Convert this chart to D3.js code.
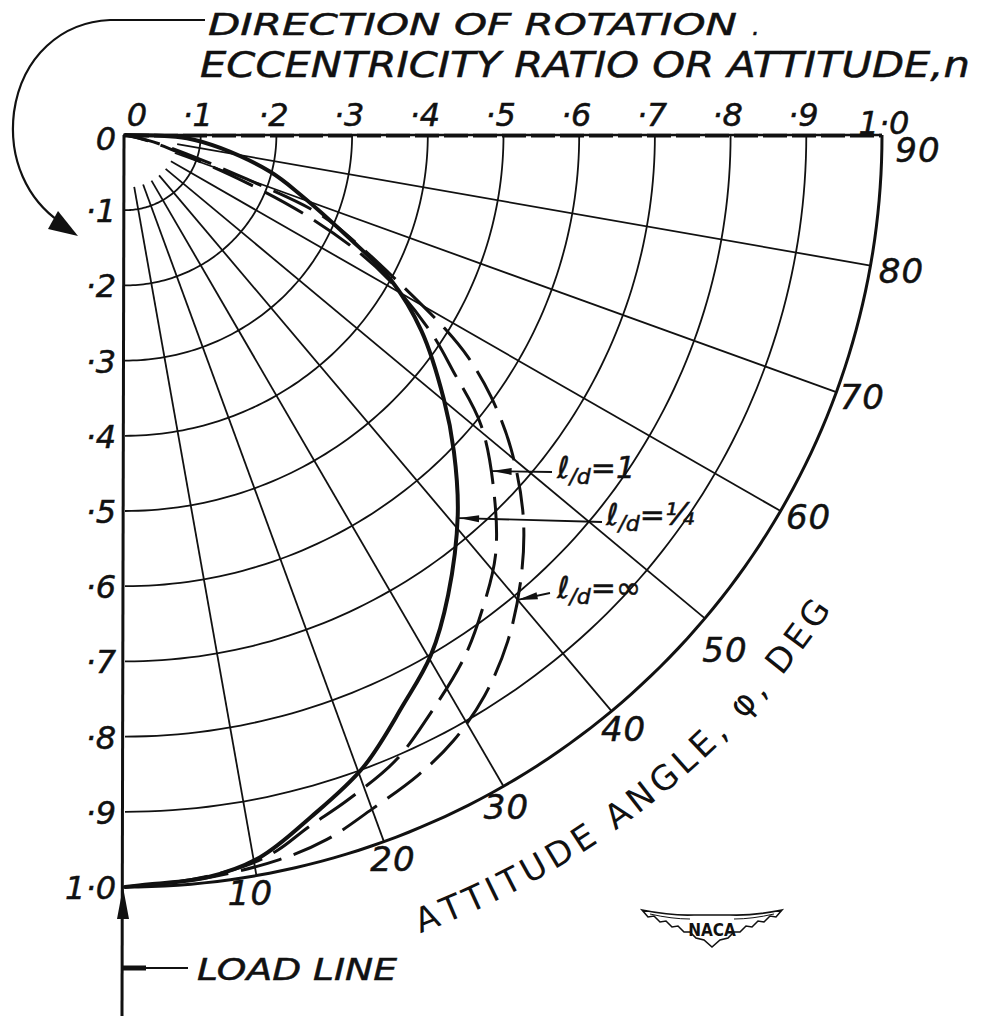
<!DOCTYPE html>
<html>
<head>
<meta charset="utf-8">
<script src="https://cdn.jsdelivr.net/npm/d3@7"></script>
<style>
  html, body { margin: 0; padding: 0; background: #fff; }
  svg { display: block; }
  .hand { font-family: "DejaVu Sans", sans-serif; font-style: italic; fill: #111; stroke: #111; stroke-width: 0.5; }
  .upright { font-family: "DejaVu Sans", sans-serif; fill: #111; }
</style>
</head>
<body>
<svg id="chart" width="987" height="1016"></svg>
<script>
// Eccentricity-ratio rings and their labels
const eccTicks  = [0, 0.1, 0.2, 0.3, 0.4, 0.5, 0.6, 0.7, 0.8, 0.9, 1.0];
const eccLabels = ["0", "·1", "·2", "·3", "·4", "·5", "·6", "·7", "·8", "·9", "1·0"];

// Attitude-angle spokes (degrees from the load line) and their labels
const phiTicks  = [10, 20, 30, 40, 50, 60, 70, 80, 90];
const phiLabels = ["10", "20", "30", "40", "50", "60", "70", "80", "90"];

// Journal-centre loci: [eccentricity ratio, attitude angle in degrees]
const locusQuarter = [
  [0, 90], [0.04, 89], [0.082, 87], [0.127, 82.2], [0.198, 75.7], [0.245, 71.1],
  [0.324, 65.3], [0.40, 61.3], [0.47, 56.4], [0.548, 50.2], [0.605, 45.9],
  [0.670, 41.0], [0.746, 34.9], [0.801, 30.3], [0.842, 25.9], [0.898, 20.5],
  [0.940, 15.1], [0.977, 10.5], [0.993, 6.3], [0.997, 1.9], [1.0, 0]
];
const locusOne = [
  [0, 80], [0.03, 76], [0.074, 72], [0.17, 68.5], [0.261, 66], [0.341, 63.4],
  [0.40, 61], [0.482, 57.0], [0.535, 54.1], [0.609, 50.6], [0.684, 45.5],
  [0.743, 41.2], [0.787, 36.9], [0.827, 32.8], [0.870, 27.5], [0.905, 23.3],
  [0.932, 18.4], [0.952, 14.7], [0.972, 12.0], [0.984, 9.5], [0.994, 5], [1.0, 0]
];
const locusInfinite = [
  [0, 82], [0.03, 77], [0.074, 73.5], [0.17, 70], [0.279, 67.7], [0.344, 64.5],
  [0.40, 62], [0.496, 58.6], [0.541, 56.9], [0.595, 54.3], [0.659, 50.7],
  [0.730, 46.1], [0.788, 41.6], [0.842, 36.9], [0.884, 32.5], [0.915, 28.3],
  [0.935, 24.5], [0.954, 20.0], [0.974, 15.9], [0.985, 11.9], [0.994, 6], [1.0, 0]
];

// Length-diameter ratio tags and the point on each locus they point at
const locusTags   = ["1", "¼", "∞"];
const tagAnchors  = [[0.659, 47.3], [0.674, 40.9], [0.807, 40.0]];

const angleTitle = "ATTITUDE ANGLE, φ, DEG";

const svg = d3.select("#chart");

// Polar frame: origin at the top-left corner, phi measured from the downward load line
const cx = 125, cy = 135;
const rx = d3.scaleLinear().domain([0, 1]).range([0, 757]);
const ry = d3.scaleLinear().domain([0, 1]).range([0, 752]);
const rad = d => d * Math.PI / 180;
const X = (e, p) => cx + rx(e) * Math.sin(rad(p));
const Y = (e, p) => cy + ry(e) * Math.cos(rad(p));

const polarLine = d3.line()
  .x(d => X(d[0], d[1]))
  .y(d => Y(d[0], d[1]));

// Rings
const sweep = d3.range(0, 90.01, 1);
eccTicks.filter(e => e > 0).forEach(e => {
  svg.append("path")
    .attr("d", d3.line().x(p => X(e, p)).y(p => Y(e, p))(sweep))
    .attr("fill", "none")
    .attr("stroke", "#111")
    .attr("stroke-width", e === 1 ? 3 : 1.8);
});

// Spokes
phiTicks.filter(p => p < 90).forEach(p => {
  svg.append("line")
    .attr("x1", X(0.07, p)).attr("y1", Y(0.07, p))
    .attr("x2", X(1, p)).attr("y2", Y(1, p))
    .attr("stroke", "#111").attr("stroke-width", 1.8);
});

// 90-degree spoke doubles as the eccentricity scale
svg.append("line")
  .attr("x1", X(0, 90)).attr("y1", Y(0, 90))
  .attr("x2", X(1, 90)).attr("y2", Y(1, 90))
  .attr("stroke", "#111").attr("stroke-width", 2.4);
svg.append("line")
  .attr("x1", X(0, 90)).attr("y1", Y(0, 90) + 0.6)
  .attr("x2", X(1, 90)).attr("y2", Y(1, 90) + 0.6)
  .attr("stroke", "#111").attr("stroke-width", 3.6)
  .attr("stroke-dasharray", "24,5");

// Load line (0-degree spoke extended downward)
svg.append("line")
  .attr("x1", cx - 1).attr("y1", cy)
  .attr("x2", cx - 3).attr("y2", 1016)
  .attr("stroke", "#111").attr("stroke-width", 3);
const tipY = Y(1, 0);
svg.append("path")
  .attr("d", `M${cx - 2},${tipY} L${cx - 8},${tipY + 32} L${cx + 4},${tipY + 32} Z`)
  .attr("fill", "#111");

// Loci
svg.append("path")
  .attr("d", polarLine.curve(d3.curveCatmullRom)(locusQuarter))
  .attr("fill", "none").attr("stroke", "#111").attr("stroke-width", 4)
  .attr("stroke-linecap", "round");
svg.append("path")
  .attr("d", polarLine.curve(d3.curveCatmullRom)(locusOne))
  .attr("fill", "none").attr("stroke", "#111").attr("stroke-width", 3)
  .attr("stroke-dasharray", "44,13").attr("stroke-dashoffset", 20);
svg.append("path")
  .attr("d", polarLine.curve(d3.curveCatmullRom)(locusInfinite))
  .attr("fill", "none").attr("stroke", "#111").attr("stroke-width", 3)
  .attr("stroke-dasharray", "42,13").attr("stroke-dashoffset", 6);

// Eccentricity labels along the top scale and down the load line
const topShift = { "0": 12, "1·0": 2 };
eccTicks.forEach((e, i) => {
  const lab = eccLabels[i];
  svg.append("text").attr("class", "hand")
    .attr("x", X(e, 90) + (topShift[lab] !== undefined ? topShift[lab] : -3))
    .attr("y", lab === "1·0" ? 134 : 126)
    .attr("text-anchor", "middle")
    .attr("font-size", 32)
    .text(lab);
  svg.append("text").attr("class", "hand")
    .attr("x", 116)
    .attr("y", Y(e, 0) + (e === 0 ? 4 : 1))
    .attr("text-anchor", "end")
    .attr("dominant-baseline", "central")
    .attr("font-size", 32)
    .text(lab);
});

// Attitude-angle labels round the outer ring
const phiLabelOffset = {
  90: [36, 15], 80: [31, 5], 70: [26, 5], 60: [28, 6], 50: [20, 32],
  40: [12, 18], 30: [3, 21], 20: [9, 17], 10: [-6, 17]
};
phiTicks.forEach((p, i) => {
  const o = phiLabelOffset[p];
  svg.append("text").attr("class", "hand")
    .attr("x", X(1, p) + o[0]).attr("y", Y(1, p) + o[1])
    .attr("text-anchor", "middle").attr("dominant-baseline", "central")
    .attr("font-size", 34).attr("letter-spacing", 1)
    .text(phiLabels[i]);
});

// Curved axis title: each letter set on an outer arc, tops toward the origin
(function () {
  const R = 851, startDeg = 20.3, span = 532, size = 34;
  const probe = svg.append("text").attr("class", "upright").attr("font-size", size);
  const widths = Array.from(angleTitle).map(ch => {
    probe.text(ch === " " ? "\u00a0" : ch);
    return probe.node().getComputedTextLength();
  });
  probe.remove();
  const natural = d3.sum(widths);
  const gap = (span - natural) / (widths.length - 1);
  let s = 0;
  Array.from(angleTitle).forEach((ch, i) => {
    const mid = s + widths[i] / 2;
    s += widths[i] + gap;
    if (ch === " ") return;
    const phi = startDeg + (mid / R) * 180 / Math.PI;
    const x = cx + R * Math.sin(rad(phi));
    const y = cy + R * Math.cos(rad(phi));
    svg.append("text").attr("class", "upright")
      .attr("font-size", size)
      .attr("text-anchor", "middle")
      .attr("transform", `translate(${x},${y}) rotate(${-phi})`)
      .text(ch);
  });
})();

// Header lines
svg.append("text").attr("class", "hand")
  .attr("x", 208).attr("y", 35).attr("font-size", 30)
  .attr("textLength", 529).attr("lengthAdjust", "spacingAndGlyphs")
  .text("DIRECTION OF ROTATION");
svg.append("text").attr("class", "hand")
  .attr("x", 752).attr("y", 35).attr("font-size", 24).text(".");
svg.append("text").attr("class", "hand")
  .attr("x", 200).attr("y", 77).attr("font-size", 35)
  .attr("textLength", 770).attr("lengthAdjust", "spacingAndGlyphs")
  .text("ECCENTRICITY RATIO OR ATTITUDE,n");

// Rotation arrow
svg.append("path")
  .attr("d", "M205,20 L110,20 C62,22 22,56 14,112 C8,160 28,200 60,222")
  .attr("fill", "none").attr("stroke", "#111").attr("stroke-width", 2.2);
svg.append("path")
  .attr("d", "M58,211 L48,229 L78,236 Z")
  .attr("fill", "#111");

// Load line caption
svg.append("line").attr("x1", cx - 3).attr("y1", 968).attr("x2", 146).attr("y2", 968)
  .attr("stroke", "#111").attr("stroke-width", 5);
svg.append("line").attr("x1", 146).attr("y1", 968).attr("x2", 188).attr("y2", 968)
  .attr("stroke", "#111").attr("stroke-width", 1.8);
svg.append("text").attr("class", "hand")
  .attr("x", 197).attr("y", 980).attr("font-size", 30)
  .attr("textLength", 200).attr("lengthAdjust", "spacingAndGlyphs")
  .text("LOAD LINE");

// Locus tags with leader arrows
const tagLayout = [
  { tx: 557, ty: 478, lx: 552, ly: 472 },
  { tx: 606, ty: 525, lx: 602, ly: 522 },
  { tx: 557, ty: 598, lx: 550, ly: 593 }
];
tagAnchors.forEach((a, i) => {
  const L = tagLayout[i];
  const ax = X(a[0], a[1]), ay = Y(a[0], a[1]);
  svg.append("line").attr("x1", ax).attr("y1", ay).attr("x2", L.lx).attr("y2", L.ly)
    .attr("stroke", "#111").attr("stroke-width", 1.8);
  const ang = Math.atan2(L.ly - ay, L.lx - ax);
  const ux = Math.cos(ang), uy = Math.sin(ang);
  const bx = ax + ux * 20, by = ay + uy * 20;
  svg.append("path")
    .attr("d", `M${ax},${ay} L${bx - uy * 3.5},${by + ux * 3.5} L${bx + uy * 3.5},${by - ux * 3.5} Z`)
    .attr("fill", "#111");
  const t = svg.append("text").attr("class", "hand")
    .attr("x", L.tx).attr("y", L.ty).attr("font-size", 30);
  t.append("tspan").text("ℓ");
  t.append("tspan").attr("font-size", 22).attr("dy", 6).text("/d");
  t.append("tspan").attr("dy", -6).text("=" + locusTags[i]);
});

// NACA wings emblem
const logo = svg.append("g").attr("transform", "translate(712,913)");
logo.append("path")
  .attr("d", "M-70,-3 Q-40,3 -18,2 L18,2 Q40,3 70,-3 " +
             "L64,4 L58,3 L52,9 L46,8 L40,14 L34,13 L28,19 L22,19 L16,25 L8,27 L0,34 " +
             "L-8,27 L-16,25 L-22,19 L-28,19 L-34,13 L-40,14 L-46,8 L-52,9 L-58,3 L-64,4 Z")
  .attr("fill", "#fff").attr("stroke", "#111").attr("stroke-width", 1.6);
logo.append("path")
  .attr("d", "M-62,1 Q-40,6 -22,6 M22,6 Q40,6 62,1")
  .attr("fill", "none").attr("stroke", "#111").attr("stroke-width", 1);
logo.append("text")
  .attr("x", 0).attr("y", 23).attr("text-anchor", "middle")
  .attr("font-family", "DejaVu Sans Condensed, DejaVu Sans, sans-serif")
  .attr("font-weight", "bold").attr("font-size", 17)
  .attr("fill", "#111")
  .text("NACA");
</script>
</body>
</html>
